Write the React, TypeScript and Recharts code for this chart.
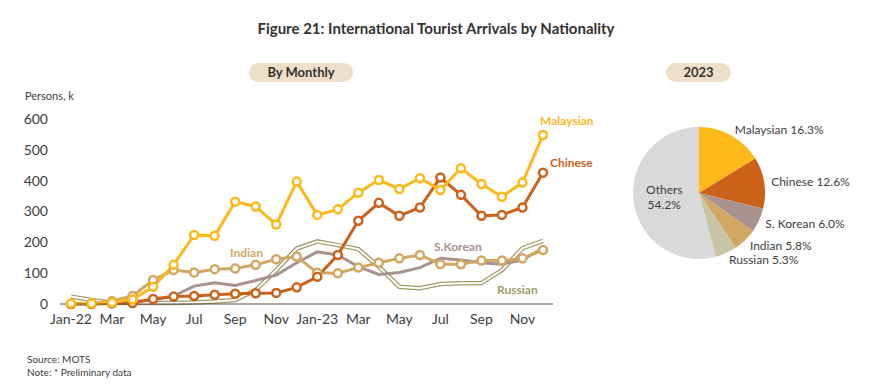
import React from "react";
import { LineChart, Line, XAxis, YAxis, PieChart, Pie, Cell } from "recharts";

const months = [
  "Jan-22", "Feb", "Mar", "Apr", "May", "Jun", "Jul", "Aug", "Sep", "Oct", "Nov", "Dec",
  "Jan-23", "Feb", "Mar", "Apr", "May", "Jun", "Jul", "Aug", "Sep", "Oct", "Nov", "Dec",
];

const malaysian = [2, 2, 5, 15, 56, 127, 224, 221, 332, 316, 258, 397, 289, 307, 361, 402, 373, 408, 370, 440, 389, 348, 394, 548];
const chinese = [0, 0, 2, 3, 16, 24, 26, 30, 33, 35, 36, 54, 88, 159, 270, 328, 286, 313, 410, 354, 286, 289, 313, 426];
const indian = [0, 2, 10, 26, 78, 110, 102, 113, 115, 127, 145, 154, 101, 100, 118, 134, 148, 159, 129, 129, 141, 141, 148, 175];
const skorean = [0, 1, 3, 8, 13, 26, 58, 69, 60, 76, 94, 134, 169, 159, 121, 96, 102, 118, 148, 143, 134, 129, 143, 181];
const russian = [24, 13, 4, 3, 3, 3, 5, 8, 13, 45, 110, 180, 203, 191, 178, 121, 56, 51, 65, 67, 68, 110, 181, 205];

const yTicks = [0, 100, 200, 300, 400, 500, 600];

const pieNames = ["Malaysian", "Chinese", "S. Korean", "Indian", "Russian", "Others"];
const pieShares = [16.3, 12.6, 6.0, 5.8, 5.3, 54.2];

const C = {
  mal: "#FDB91A",
  chn: "#CC6119",
  ind: "#D2A763",
  kor: "#A8938F",
  rus: "#A09A69",
  rusPie: "#C9C4A6",
  oth: "#D9D9D9",
  pill: "#EEDFC8",
  text: "#404040",
};
const pieColors = [C.mal, C.chn, C.kor, C.ind, C.rusPie, C.oth];

const lineData = months.map((m, i) => ({
  m,
  mal: malaysian[i],
  chn: chinese[i],
  ind: indian[i],
  kor: skorean[i],
  rus: russian[i],
}));
const pieData = pieNames.map((name, i) => ({ name, value: pieShares[i] }));

const FONT = "Lato, 'Noto Sans', sans-serif";
const RAD = Math.PI / 180;

const abs = (left: number, top: number, extra: React.CSSProperties = {}): React.CSSProperties => ({
  position: "absolute",
  left,
  top,
  transform: "translateY(-50%)",
  whiteSpace: "nowrap",
  ...extra,
});

const dot = (color: string) => ({ r: 4, fill: "#fff", stroke: color, strokeWidth: 2.5 });

const pieLabel = (p: any) => {
  const { cx, cy, midAngle, index } = p;
  const name = pieNames[index];
  const pct = pieShares[index].toFixed(1) + "%";
  if (name === "Others") {
    const x = cx + 35 * Math.cos(-midAngle * RAD);
    const y = cy + 35 * Math.sin(-midAngle * RAD);
    return (
      <text x={x} y={y} textAnchor="middle" fill={C.text} fontSize={12} fontFamily={FONT}>
        <tspan x={x} dy={-3}>{name}</tspan>
        <tspan x={x} dy={15}>{pct}</tspan>
      </text>
    );
  }
  const x = cx + 73 * Math.cos(-midAngle * RAD);
  const y = cy + 73 * Math.sin(-midAngle * RAD);
  return (
    <text x={x} y={y} textAnchor="start" dominantBaseline="central" fill={C.text} fontSize={12} fontFamily={FONT}>
      {name} {pct}
    </text>
  );
};

export default function App() {
  return (
    <div style={{ position: "relative", width: 870, height: 392, margin: -8, background: "#fff", fontFamily: FONT, color: C.text }}>
      <div style={{ position: "absolute", left: 0, width: 872, top: 28, transform: "translateY(-50%)", textAlign: "center", fontWeight: 700, fontSize: 15, color: "#333" }}>
        Figure 21: International Tourist Arrivals by Nationality
      </div>

      <div style={{ position: "absolute", left: 249, top: 63, width: 104, height: 19, borderRadius: 10, background: C.pill, textAlign: "center", lineHeight: "19px", fontWeight: 700, fontSize: 13, color: "#333" }}>
        By Monthly
      </div>
      <div style={{ position: "absolute", left: 666, top: 63, width: 65, height: 19, borderRadius: 10, background: C.pill, textAlign: "center", lineHeight: "19px", fontWeight: 700, fontSize: 13, color: "#333" }}>
        2023
      </div>

      <div style={abs(25, 95, { fontSize: 11 })}>Persons, k</div>

      <div style={{ position: "absolute", left: 0, top: 0 }}>
        <LineChart width={570} height={340} data={lineData} margin={{ top: 119, right: 17, bottom: 6, left: 0 }}>
          <XAxis
            dataKey="m"
            interval={1}
            padding={{ left: 11, right: 10 }}
            tickLine={false}
            axisLine={{ stroke: "#5B4B45", strokeWidth: 1 }}
            tick={{ fill: C.text, fontSize: 14, fontFamily: FONT }}
            tickMargin={4}
          />
          <YAxis
            width={60}
            domain={[0, 600]}
            ticks={yTicks}
            axisLine={false}
            tickLine={false}
            tickMargin={6}
            tick={{ fill: C.text, fontSize: 14, fontFamily: FONT }}
          />
          <Line dataKey="rus" stroke={C.rus} strokeWidth={4.5} dot={false} isAnimationActive={false} />
          <Line dataKey="rus" stroke="#fff" strokeWidth={2} dot={false} isAnimationActive={false} />
          <Line dataKey="kor" stroke={C.kor} strokeWidth={3} dot={false} isAnimationActive={false} />
          <Line dataKey="ind" stroke={C.ind} strokeWidth={3} dot={dot(C.ind)} isAnimationActive={false} />
          <Line dataKey="chn" stroke={C.chn} strokeWidth={3} dot={dot(C.chn)} isAnimationActive={false} />
          <Line dataKey="mal" stroke={C.mal} strokeWidth={3} dot={dot(C.mal)} isAnimationActive={false} />
        </LineChart>
      </div>

      <div style={abs(540, 120, { fontSize: 12, fontWeight: 700, color: C.mal })}>Malaysian</div>
      <div style={abs(550, 162, { fontSize: 12, fontWeight: 700, color: C.chn })}>Chinese</div>
      <div style={abs(230, 252, { fontSize: 12, fontWeight: 700, color: C.ind })}>Indian</div>
      <div style={abs(434, 246, { fontSize: 12, fontWeight: 700, color: C.kor })}>S.Korean</div>
      <div style={abs(497, 289, { fontSize: 12, fontWeight: 700, color: C.rus })}>Russian</div>

      <div style={{ position: "absolute", left: 565, top: 85 }}>
        <PieChart width={300} height={220} margin={{ top: 0, right: 0, bottom: 0, left: 0 }}>
          <Pie
            data={pieData}
            dataKey="value"
            cx={134}
            cy={108}
            outerRadius={66}
            startAngle={90}
            endAngle={-270}
            stroke="none"
            labelLine={false}
            label={pieLabel}
            isAnimationActive={false}
          >
            {pieData.map((d, i) => (
              <Cell key={d.name} fill={pieColors[i]} />
            ))}
          </Pie>
        </PieChart>
      </div>

      <div style={abs(27, 359, { fontSize: 10 })}>Source: MOTS</div>
      <div style={abs(27, 372, { fontSize: 10 })}>Note: * Preliminary data</div>
    </div>
  );
}
